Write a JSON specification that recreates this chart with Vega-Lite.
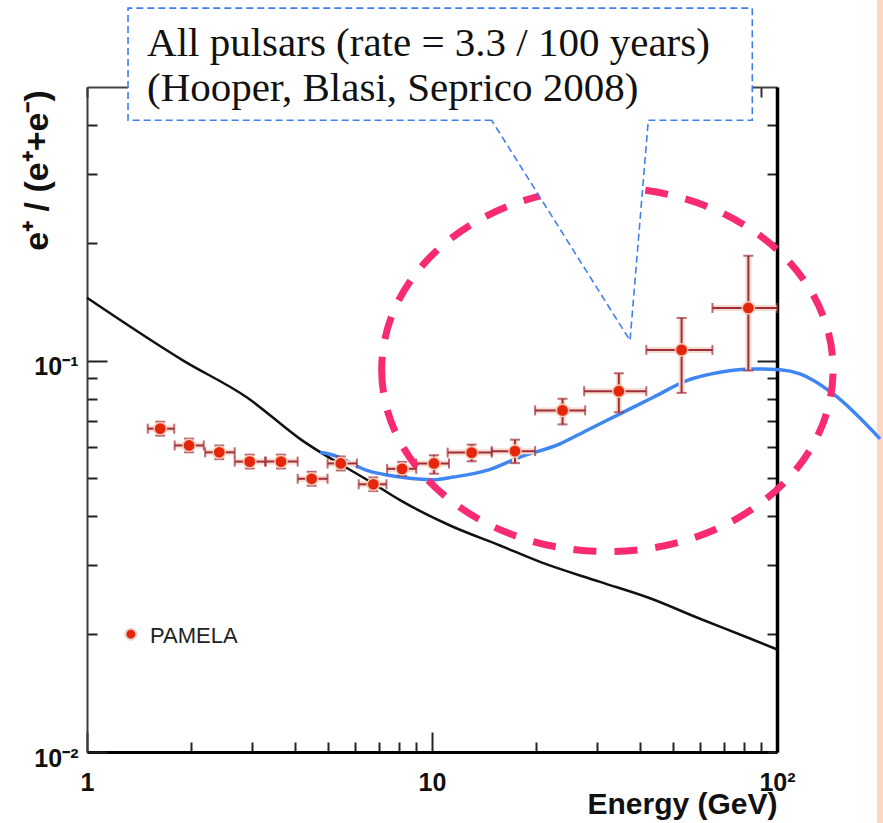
{
  "$schema": "https://vega.github.io/schema/vega-lite/v6.json",
  "width": 690,
  "height": 665,
  "autosize": {"type": "none"},
  "padding": {"left": 87, "top": 87, "right": 106, "bottom": 71},
  "background": "white",
  "config": {"view": {"stroke": null}, "axis": {"grid": false}},
  "resolve": {"axis": {"x": "independent", "y": "independent"}},
  "datasets": {
    "band": [{"x1": 195, "x2": 400, "y1": 0.003, "y2": 3}],
    "background": [
      {"e": 1.0, "r": 0.1447}, {"e": 1.901, "r": 0.1}, {"e": 2.903, "r": 0.0806},
      {"e": 4.143, "r": 0.0631}, {"e": 6.76, "r": 0.0485}, {"e": 8.08, "r": 0.044},
      {"e": 11.28, "r": 0.0379}, {"e": 15.74, "r": 0.0337}, {"e": 20.56, "r": 0.0306},
      {"e": 30.69, "r": 0.0272}, {"e": 42.85, "r": 0.0247}, {"e": 59.8, "r": 0.0219},
      {"e": 83.5, "r": 0.0195}, {"e": 99.8, "r": 0.0183}
    ],
    "pulsars": [
      {"e": 4.74, "r": 0.0583}, {"e": 5.18, "r": 0.0573}, {"e": 6.47, "r": 0.0524},
      {"e": 8.08, "r": 0.0504}, {"e": 10.09, "r": 0.0496}, {"e": 11.53, "r": 0.0504},
      {"e": 14.41, "r": 0.0524}, {"e": 17.99, "r": 0.0567}, {"e": 23.5, "r": 0.0613},
      {"e": 28.08, "r": 0.0663}, {"e": 35.07, "r": 0.0731}, {"e": 43.8, "r": 0.0806},
      {"e": 54.7, "r": 0.0889}, {"e": 68.4, "r": 0.0934}, {"e": 85.3, "r": 0.0952},
      {"e": 102.0, "r": 0.0947}, {"e": 116.6, "r": 0.0925}, {"e": 145.6, "r": 0.0822},
      {"e": 198.9, "r": 0.0631}
    ],
    "pamela": [
      {"e": 1.63, "r": 0.067, "elo": 1.5, "ehi": 1.79, "rlo": 0.0643, "rhi": 0.0698},
      {"e": 1.976, "r": 0.0607, "elo": 1.795, "ehi": 2.18, "rlo": 0.0583, "rhi": 0.0632},
      {"e": 2.418, "r": 0.0583, "elo": 2.2, "ehi": 2.68, "rlo": 0.056, "rhi": 0.0607},
      {"e": 2.962, "r": 0.0552, "elo": 2.68, "ehi": 3.28, "rlo": 0.053, "rhi": 0.0575},
      {"e": 3.65, "r": 0.0552, "elo": 3.3, "ehi": 4.08, "rlo": 0.053, "rhi": 0.0575},
      {"e": 4.48, "r": 0.0499, "elo": 4.08, "ehi": 4.98, "rlo": 0.0479, "rhi": 0.052},
      {"e": 5.44, "r": 0.0546, "elo": 4.98, "ehi": 6.06, "rlo": 0.0524, "rhi": 0.0569},
      {"e": 6.76, "r": 0.0483, "elo": 6.13, "ehi": 7.38, "rlo": 0.0464, "rhi": 0.0503},
      {"e": 8.19, "r": 0.0529, "elo": 7.41, "ehi": 9.0, "rlo": 0.0508, "rhi": 0.0551},
      {"e": 10.13, "r": 0.0546, "elo": 9.0, "ehi": 11.2, "rlo": 0.0514, "rhi": 0.0573},
      {"e": 13.03, "r": 0.0582, "elo": 11.1, "ehi": 14.9, "rlo": 0.0553, "rhi": 0.061},
      {"e": 17.4, "r": 0.0587, "elo": 14.9, "ehi": 19.9, "rlo": 0.0547, "rhi": 0.0628},
      {"e": 23.9, "r": 0.0746, "elo": 19.9, "ehi": 27.8, "rlo": 0.0687, "rhi": 0.0799},
      {"e": 34.8, "r": 0.0835, "elo": 27.6, "ehi": 41.8, "rlo": 0.0738, "rhi": 0.0928},
      {"e": 52.9, "r": 0.1065, "elo": 41.8, "ehi": 65.0, "rlo": 0.0827, "rhi": 0.1285},
      {"e": 82.6, "r": 0.1363, "elo": 65.0, "ehi": 100, "rlo": 0.0943, "rhi": 0.1853}
    ],
    "ellipse": [{"e": 32.24, "r": 0.0948}],
    "box": [{"x1": 1.315, "x2": 84.8, "y1": 0.4111, "y2": 0.795}],
    "pointer": [
      {"e": 14.89, "r": 0.4111, "top": 0.4111},
      {"e": 37.5, "r": 0.1125, "top": 0.4111},
      {"e": 42.36, "r": 0.4111, "top": 0.4111}
    ],
    "outline": [
      {"o": 0, "e": 14.89, "r": 0.4111}, {"o": 1, "e": 1.315, "r": 0.4111},
      {"o": 2, "e": 1.315, "r": 0.795}, {"o": 3, "e": 84.8, "r": 0.795},
      {"o": 4, "e": 84.8, "r": 0.4111}, {"o": 5, "e": 42.36, "r": 0.4111},
      {"o": 6, "e": 37.5, "r": 0.1125}, {"o": 7, "e": 14.89, "r": 0.4111}
    ],
    "notes": [
      {"e": 1.493, "r": 0.6, "label": "All pulsars (rate = 3.3 / 100 years)"},
      {"e": 1.493, "r": 0.4606, "label": "(Hooper, Blasi, Seprico 2008)"}
    ],
    "legendPoint": [{"e": 1.34, "r": 0.02}],
    "legendText": [{"e": 1.523, "r": 0.0198, "label": "PAMELA"}]
  },
  "layer": [
    {
      "data": {"name": "band"},
      "mark": {"type": "rect", "fill": "#FCD5C3"},
      "encoding": {
        "x": {"field": "x1", "type": "quantitative", "scale": {"type": "log", "domain": [1, 100], "nice": false}, "axis": null},
        "x2": {"field": "x2"},
        "y": {"field": "y1", "type": "quantitative", "scale": {"type": "log", "domain": [0.01, 0.5], "nice": false}, "axis": null},
        "y2": {"field": "y2"}
      }
    },
    {
      "data": {"name": "background"},
      "mark": {"type": "line", "color": "#111111", "strokeWidth": 2.5, "interpolate": "monotone"},
      "encoding": {
        "x": {
          "field": "e", "type": "quantitative",
          "scale": {"type": "log", "domain": [1, 100], "nice": false},
          "axis": {
            "orient": "bottom",
            "values": [1, 2, 3, 4, 5, 6, 7, 8, 9, 10, 20, 30, 40, 50, 60, 70, 80, 90, 100],
            "labelExpr": "datum.value == 1 ? '1' : datum.value == 10 ? '10' : datum.value == 100 ? '10²' : ''",
            "tickSize": {"condition": {"test": "datum.value == 1 || datum.value == 10 || datum.value == 100", "value": -20}, "value": -10},
            "tickColor": "#222222", "tickWidth": 2,
            "labelPadding": 38, "labelFont": "Liberation Sans", "labelFontWeight": "bold", "labelFontSize": 25,
            "labelColor": "#111111", "labelBaseline": "top", "labelAlign": "center",
            "labelFlush": false, "labelOverlap": false, "labelBound": false,
            "domainColor": "#000000", "domainWidth": 3,
            "title": "Energy (GeV)", "titleFont": "Liberation Sans", "titleFontWeight": "bold", "titleFontSize": 30,
            "titleColor": "#111111", "titleAnchor": "end", "titleAlign": "right", "titleBaseline": "alphabetic",
            "titleX": 690, "titleY": 61
          }
        },
        "y": {
          "field": "r", "type": "quantitative",
          "scale": {"type": "log", "domain": [0.01, 0.5], "nice": false},
          "axis": {
            "orient": "left",
            "values": [0.01, 0.02, 0.03, 0.04, 0.05, 0.06, 0.07, 0.08, 0.09, 0.1, 0.2, 0.3, 0.4],
            "labelExpr": "datum.value == 0.1 ? '10⁻¹' : datum.value == 0.01 ? '10⁻²' : ''",
            "tickSize": {"condition": {"test": "datum.value == 0.1 || datum.value == 0.01", "value": -20}, "value": -10},
            "tickColor": "#222222", "tickWidth": 2,
            "labelPadding": 29, "labelFont": "Liberation Sans", "labelFontWeight": "bold", "labelFontSize": 25,
            "labelColor": "#111111", "labelBaseline": "middle", "labelAlign": "right", "labelOffset": 6,
            "labelFlush": false, "labelOverlap": false, "labelBound": false,
            "domainColor": "#3a3a3a", "domainWidth": 2,
            "title": "e⁺ / (e⁺+e⁻)", "titleFont": "Liberation Sans", "titleFontWeight": "bold", "titleFontSize": 34,
            "titleColor": "#111111", "titleAngle": -90, "titleAlign": "center", "titleBaseline": "middle",
            "titleX": -50, "titleY": 83
          }
        }
      }
    },
    {
      "data": {"name": "pulsars"},
      "mark": {"type": "line", "color": "#3f86f2", "strokeWidth": 3.5, "interpolate": "monotone"},
      "encoding": {
        "x": {
          "field": "e", "type": "quantitative",
          "scale": {"type": "log", "domain": [1, 100], "nice": false},
          "axis": {
            "orient": "top",
            "values": [1, 2, 3, 4, 5, 6, 7, 8, 9, 10, 20, 30, 40, 50, 60, 70, 80, 90, 100],
            "labels": false,
            "tickSize": {"condition": {"test": "datum.value == 10", "value": -20}, "value": -10},
            "tickColor": "#333333", "tickWidth": 2,
            "domainColor": "#444444", "domainWidth": 2, "title": null
          }
        },
        "y": {
          "field": "r", "type": "quantitative",
          "scale": {"type": "log", "domain": [0.01, 0.5], "nice": false},
          "axis": {
            "orient": "right",
            "values": [0.01, 0.02, 0.03, 0.04, 0.05, 0.06, 0.07, 0.08, 0.09, 0.1, 0.2, 0.3, 0.4],
            "labels": false,
            "tickSize": {"condition": {"test": "datum.value == 0.1", "value": -20}, "value": -10},
            "tickColor": "#222222", "tickWidth": 2,
            "domainColor": "#000000", "domainWidth": 3.5, "title": null
          }
        }
      }
    },
    {
      "data": {"name": "pamela"},
      "mark": {"type": "rule", "color": "#f6dccf", "strokeWidth": 6},
      "encoding": {
        "x": {"field": "elo", "type": "quantitative", "scale": {"type": "log", "domain": [1, 100], "nice": false}, "axis": null},
        "x2": {"field": "ehi"},
        "y": {"field": "r", "type": "quantitative", "scale": {"type": "log", "domain": [0.01, 0.5], "nice": false}, "axis": null}
      }
    },
    {
      "data": {"name": "pamela"},
      "mark": {"type": "rule", "color": "#f6dccf", "strokeWidth": 6},
      "encoding": {
        "x": {"field": "e", "type": "quantitative", "scale": {"type": "log", "domain": [1, 100], "nice": false}, "axis": null},
        "y": {"field": "rlo", "type": "quantitative", "scale": {"type": "log", "domain": [0.01, 0.5], "nice": false}, "axis": null},
        "y2": {"field": "rhi"}
      }
    },
    {
      "data": {"name": "pamela"},
      "mark": {"type": "rule", "color": "#a02d3a", "strokeWidth": 2},
      "encoding": {
        "x": {"field": "elo", "type": "quantitative", "scale": {"type": "log", "domain": [1, 100], "nice": false}, "axis": null},
        "x2": {"field": "ehi"},
        "y": {"field": "r", "type": "quantitative", "scale": {"type": "log", "domain": [0.01, 0.5], "nice": false}, "axis": null}
      }
    },
    {
      "data": {"name": "pamela"},
      "mark": {"type": "rule", "color": "#a02d3a", "strokeWidth": 2},
      "encoding": {
        "x": {"field": "e", "type": "quantitative", "scale": {"type": "log", "domain": [1, 100], "nice": false}, "axis": null},
        "y": {"field": "rlo", "type": "quantitative", "scale": {"type": "log", "domain": [0.01, 0.5], "nice": false}, "axis": null},
        "y2": {"field": "rhi"}
      }
    },
    {
      "data": {"name": "pamela"},
      "mark": {"type": "tick", "orient": "vertical", "size": 10, "thickness": 2, "color": "#a02d3a"},
      "encoding": {
        "x": {"field": "elo", "type": "quantitative", "scale": {"type": "log", "domain": [1, 100], "nice": false}, "axis": null},
        "y": {"field": "r", "type": "quantitative", "scale": {"type": "log", "domain": [0.01, 0.5], "nice": false}, "axis": null}
      }
    },
    {
      "data": {"name": "pamela"},
      "mark": {"type": "tick", "orient": "vertical", "size": 10, "thickness": 2, "color": "#a02d3a"},
      "encoding": {
        "x": {"field": "ehi", "type": "quantitative", "scale": {"type": "log", "domain": [1, 100], "nice": false}, "axis": null},
        "y": {"field": "r", "type": "quantitative", "scale": {"type": "log", "domain": [0.01, 0.5], "nice": false}, "axis": null}
      }
    },
    {
      "data": {"name": "pamela"},
      "mark": {"type": "tick", "orient": "horizontal", "size": 10, "thickness": 2, "color": "#a02d3a"},
      "encoding": {
        "x": {"field": "e", "type": "quantitative", "scale": {"type": "log", "domain": [1, 100], "nice": false}, "axis": null},
        "y": {"field": "rlo", "type": "quantitative", "scale": {"type": "log", "domain": [0.01, 0.5], "nice": false}, "axis": null}
      }
    },
    {
      "data": {"name": "pamela"},
      "mark": {"type": "tick", "orient": "horizontal", "size": 10, "thickness": 2, "color": "#a02d3a"},
      "encoding": {
        "x": {"field": "e", "type": "quantitative", "scale": {"type": "log", "domain": [1, 100], "nice": false}, "axis": null},
        "y": {"field": "rhi", "type": "quantitative", "scale": {"type": "log", "domain": [0.01, 0.5], "nice": false}, "axis": null}
      }
    },
    {
      "data": {"name": "pamela"},
      "mark": {"type": "point", "shape": "circle", "filled": true, "fill": "#e5260d", "stroke": "#f2c7b2", "strokeWidth": 1.5, "size": 150, "opacity": 1},
      "encoding": {
        "x": {"field": "e", "type": "quantitative", "scale": {"type": "log", "domain": [1, 100], "nice": false}, "axis": null},
        "y": {"field": "r", "type": "quantitative", "scale": {"type": "log", "domain": [0.01, 0.5], "nice": false}, "axis": null}
      }
    },
    {
      "data": {"name": "ellipse"},
      "mark": {"type": "point", "shape": "M -1 0 A 1 0.806 0 1 0 1 0 A 1 0.806 0 1 0 -1 0 Z", "filled": false, "stroke": "#f72a72", "strokeWidth": 7, "strokeDash": [23, 18], "size": 203760, "opacity": 1},
      "encoding": {
        "x": {"field": "e", "type": "quantitative", "scale": {"type": "log", "domain": [1, 100], "nice": false}, "axis": null},
        "y": {"field": "r", "type": "quantitative", "scale": {"type": "log", "domain": [0.01, 0.5], "nice": false}, "axis": null}
      }
    },
    {
      "data": {"name": "box"},
      "mark": {"type": "rect", "fill": "white"},
      "encoding": {
        "x": {"field": "x1", "type": "quantitative", "scale": {"type": "log", "domain": [1, 100], "nice": false}, "axis": null},
        "x2": {"field": "x2"},
        "y": {"field": "y1", "type": "quantitative", "scale": {"type": "log", "domain": [0.01, 0.5], "nice": false}, "axis": null},
        "y2": {"field": "y2"}
      }
    },
    {
      "data": {"name": "pointer"},
      "mark": {"type": "area", "fill": "white", "orient": "vertical"},
      "encoding": {
        "x": {"field": "e", "type": "quantitative", "scale": {"type": "log", "domain": [1, 100], "nice": false}, "axis": null},
        "y": {"field": "r", "type": "quantitative", "scale": {"type": "log", "domain": [0.01, 0.5], "nice": false}, "axis": null},
        "y2": {"field": "top"}
      }
    },
    {
      "data": {"name": "outline"},
      "mark": {"type": "line", "color": "#3f7ff0", "strokeWidth": 1.6, "strokeDash": [7, 4]},
      "encoding": {
        "x": {"field": "e", "type": "quantitative", "scale": {"type": "log", "domain": [1, 100], "nice": false}, "axis": null},
        "y": {"field": "r", "type": "quantitative", "scale": {"type": "log", "domain": [0.01, 0.5], "nice": false}, "axis": null},
        "order": {"field": "o", "type": "quantitative"}
      }
    },
    {
      "data": {"name": "notes"},
      "mark": {"type": "text", "font": "Liberation Serif", "fontSize": 41, "color": "#111111", "align": "left", "baseline": "alphabetic"},
      "encoding": {
        "x": {"field": "e", "type": "quantitative", "scale": {"type": "log", "domain": [1, 100], "nice": false}, "axis": null},
        "y": {"field": "r", "type": "quantitative", "scale": {"type": "log", "domain": [0.01, 0.5], "nice": false}, "axis": null},
        "text": {"field": "label", "type": "nominal"}
      }
    },
    {
      "data": {"name": "legendPoint"},
      "mark": {"type": "point", "shape": "circle", "filled": true, "fill": "#e5260d", "stroke": "#e8d6d0", "strokeWidth": 2, "size": 120, "opacity": 1},
      "encoding": {
        "x": {"field": "e", "type": "quantitative", "scale": {"type": "log", "domain": [1, 100], "nice": false}, "axis": null},
        "y": {"field": "r", "type": "quantitative", "scale": {"type": "log", "domain": [0.01, 0.5], "nice": false}, "axis": null}
      }
    },
    {
      "data": {"name": "legendText"},
      "mark": {"type": "text", "font": "Liberation Sans", "fontSize": 22, "color": "#222222", "align": "left", "baseline": "middle"},
      "encoding": {
        "x": {"field": "e", "type": "quantitative", "scale": {"type": "log", "domain": [1, 100], "nice": false}, "axis": null},
        "y": {"field": "r", "type": "quantitative", "scale": {"type": "log", "domain": [0.01, 0.5], "nice": false}, "axis": null},
        "text": {"field": "label", "type": "nominal"}
      }
    }
  ]
}
